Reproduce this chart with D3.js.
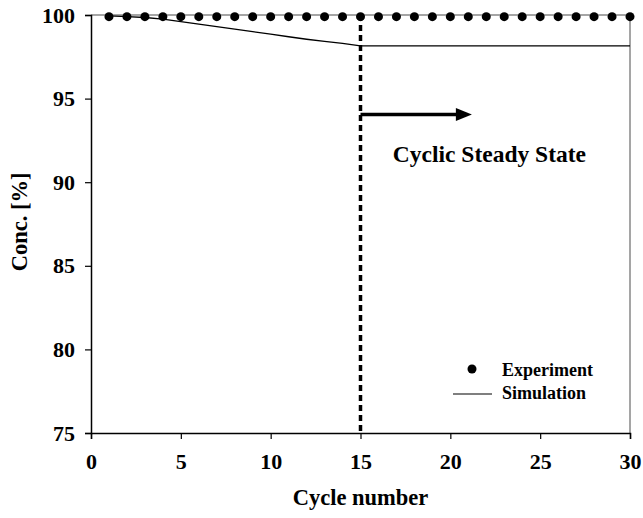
<!DOCTYPE html>
<html>
<head>
<meta charset="utf-8">
<script src="https://cdn.jsdelivr.net/npm/d3@7"></script>
<style>
  body { margin: 0; background: #fff; }
  svg text { font-family: "Liberation Serif", "Times New Roman", serif; font-weight: bold; fill: #000; }
</style>
</head>
<body>
<svg id="chart"></svg>
<script>
var $svg = {width: 643, height: 518};
var $margin = {left: 91, right: 13, top: 15, bottom: 85};

// data
var cycles = d3.range(1, 31);
var experiment = [
    99.9, 99.9, 99.9, 99.9, 99.9, 99.9, 99.9, 99.9, 99.9, 99.9,
    99.9, 99.9, 99.9, 99.9, 99.9, 99.9, 99.9, 99.9, 99.9, 99.9,
    99.9, 99.9, 99.9, 99.9, 99.9, 99.9, 99.9, 99.9, 99.9, 99.9
];
var simulation = [
    99.95, 99.9, 99.85, 99.75, 99.6, 99.45, 99.3, 99.15, 99.0, 98.85,
    98.7, 98.55, 98.42, 98.3, 98.15, 98.15, 98.15, 98.15, 98.15, 98.15,
    98.15, 98.15, 98.15, 98.15, 98.15, 98.15, 98.15, 98.15, 98.15, 98.15
];
var xTicks = [0, 5, 10, 15, 20, 25, 30];
var yTicks = [75, 80, 85, 90, 95, 100];
var steadyCycle = 15;
var labels = {x: 'Cycle number', y: 'Conc. [%]', note: 'Cyclic Steady State'};
var legendNames = ['Experiment', 'Simulation'];

function init () {
    var main = d3.select('svg#chart')
        .attr('width', $svg.width)
        .attr('height', $svg.height);

    var x = d3.scaleLinear().domain([0, 30])
        .range([$margin.left, $svg.width - $margin.right]);
    var y = d3.scaleLinear().domain([75, 100])
        .range([$svg.height - $margin.bottom, $margin.top]);

    // frame (top and right, grey)
    main.append('path')
        .attr('d', `M${x(0)},${y(100)}H${x(30)}V${y(75)}`)
        .attr('fill', 'none')
        .attr('stroke', '#888')
        .attr('stroke-width', 1.5);

    var xAxis = main.append('g')
        .attr('transform', `translate(0,${y(75)})`)
        .call(d3.axisBottom(x).tickValues(xTicks).tickSize(6).tickPadding(14));
    var yAxis = main.append('g')
        .attr('transform', `translate(${x(0)},0)`)
        .call(d3.axisLeft(y).tickValues(yTicks).tickSize(6).tickPadding(10));

    [xAxis, yAxis].forEach((g) => {
        g.select('.domain').attr('stroke', '#000').attr('stroke-width', 1.5);
        g.selectAll('.tick line').attr('stroke', '#000').attr('stroke-width', 1.2);
        g.selectAll('.tick text')
            .attr('font-family', '"Liberation Serif", serif')
            .attr('font-weight', 'bold')
            .attr('font-size', 22)
            .attr('fill', '#000');
    });

    // simulation line
    var line = d3.line()
        .x((d, i) => x(cycles[i]))
        .y((d) => y(d));
    main.append('path')
        .datum(simulation)
        .attr('d', line)
        .attr('fill', 'none')
        .attr('stroke', '#000')
        .attr('stroke-width', 1.3);

    // steady state marker
    main.append('line')
        .attr('x1', x(steadyCycle)).attr('x2', x(steadyCycle))
        .attr('y1', y(100)).attr('y2', y(75))
        .attr('stroke', '#000')
        .attr('stroke-width', 3.5)
        .attr('stroke-dasharray', '6,4');

    // experiment dots
    main.append('g')
        .selectAll('circle')
        .data(experiment)
        .join('circle')
        .attr('cx', (d, i) => x(cycles[i]))
        .attr('cy', (d) => y(d))
        .attr('r', 4.5)
        .attr('fill', '#000');

    // arrow
    var ay = y(94.05);
    var ax1 = x(steadyCycle), ax2 = x(21.2);
    main.append('line')
        .attr('x1', ax1).attr('x2', ax2 - 12)
        .attr('y1', ay).attr('y2', ay)
        .attr('stroke', '#000')
        .attr('stroke-width', 3.5);
    main.append('path')
        .attr('d', `M${ax2},${ay}L${ax2 - 16},${ay - 6.5}L${ax2 - 16},${ay + 6.5}Z`)
        .attr('fill', '#000');

    main.append('text')
        .attr('x', x(16.8)).attr('y', y(91.2))
        .attr('font-size', 23.5)
        .text(labels.note);

    // legend
    main.append('circle')
        .attr('cx', 472).attr('cy', 369).attr('r', 4.5).attr('fill', '#000');
    main.append('line')
        .attr('x1', 453).attr('x2', 492).attr('y1', 394).attr('y2', 394)
        .attr('stroke', '#000').attr('stroke-width', 1.2);
    main.append('text')
        .attr('x', 502).attr('y', 376)
        .attr('font-size', 18)
        .text(legendNames[0]);
    main.append('text')
        .attr('x', 502).attr('y', 399)
        .attr('font-size', 18)
        .text(legendNames[1]);

    // axis titles
    main.append('text')
        .attr('x', (x(0) + x(30)) / 2).attr('y', 505)
        .attr('text-anchor', 'middle')
        .attr('font-size', 22.5)
        .text(labels.x);
    main.append('text')
        .attr('transform', `translate(27,${222}) rotate(-90)`)
        .attr('text-anchor', 'middle')
        .attr('font-size', 22.5)
        .text(labels.y);
}

init();
</script>
</body>
</html>
